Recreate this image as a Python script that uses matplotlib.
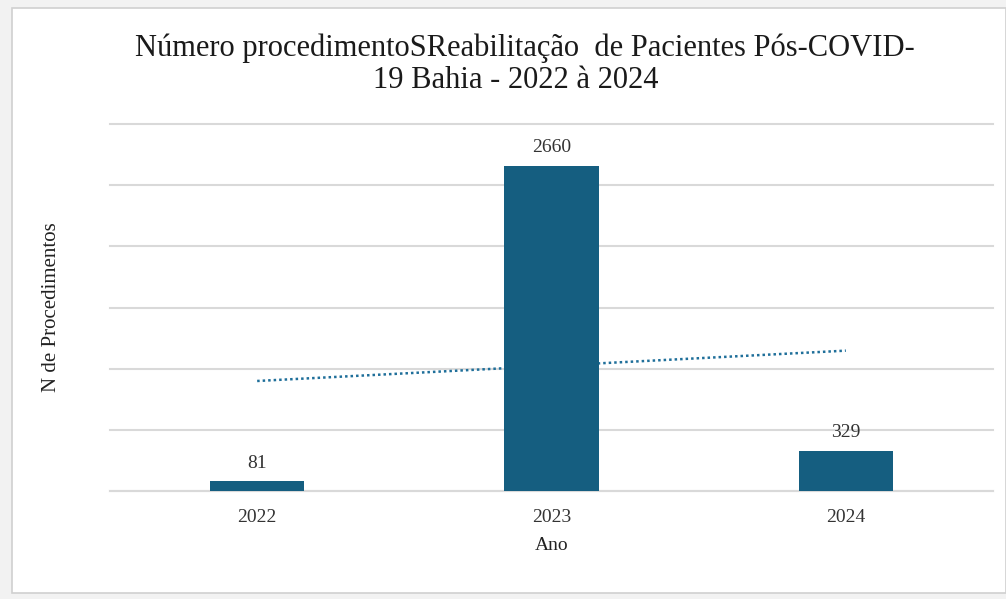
import numpy as np
import matplotlib.pyplot as plt
from matplotlib.patches import Rectangle

# data
anos = ["2022", "2023", "2024"]
procedimentos = [81, 2660, 329]
titulo = ["Número procedimentoSReabilitação  de Pacientes Pós-COVID-",
          "19 Bahia - 2022 à 2024"]

plt.rcParams["font.family"] = ["Liberation Serif", "DejaVu Serif"]

W, H = 1006, 599
fig = plt.figure(figsize=(W / 100, H / 100), dpi=100, facecolor="#f2f2f2")

# white card with thin grey border
card = Rectangle((12 / W, 1 - 593 / H), (W - 12) / W, (593 - 8) / H,
                 transform=fig.transFigure, facecolor="white",
                 edgecolor="#d0d0d0", linewidth=1.2, zorder=-1)
fig.patches.append(card)

ax = fig.add_axes([110 / W, 1 - 491 / H, (993 - 110) / W, (491 - 124) / H])
ax.set_facecolor("none")
ax.set_zorder(2)

x = np.arange(len(anos))
ax.bar(x, procedimentos, width=0.32, color="#155e80", zorder=3)

for xi, v in zip(x, procedimentos):
    ax.annotate(str(v), (xi, v), xytext=(0, 13), textcoords="offset points",
                ha="center", va="center", fontsize=14, color="#333333")

# linear trend line (sits behind the bars)
coef = np.polyfit(x, procedimentos, 1)
ax.plot(x, np.polyval(coef, x), linestyle=(0, (1, 1.2)), color="#1f6f9a",
        linewidth=1.8, zorder=2)

ax.set_xlim(-0.5, 2.5)
ax.set_ylim(0, 3000)
ax.set_yticks(np.arange(0, 3001, 500))
ax.set_yticklabels([])
ax.yaxis.grid(True, color="#d9d9d9", linewidth=1.5, zorder=0)
for gl in ax.get_ygridlines():
    gl.set_clip_on(False)
ax.tick_params(axis="y", length=0)
ax.tick_params(axis="x", length=0, pad=13, labelsize=14, labelcolor="#333333")
ax.set_xticks(x)
ax.set_xticklabels(anos)
for s in ["top", "right", "left"]:
    ax.spines[s].set_visible(False)
ax.spines["bottom"].set_color("#d9d9d9")
ax.spines["bottom"].set_linewidth(1.5)

ax.set_xlabel("Ano", fontsize=14, labelpad=8, color="#222222")
ax.set_ylabel("N de Procedimentos", fontsize=15, labelpad=32, color="#222222")

fig.text(525 / W, 1 - 48 / H, titulo[0], ha="center", va="center",
         fontsize=22, color="#1a1a1a")
fig.text(516 / W, 1 - 81 / H, titulo[1], ha="center", va="center",
         fontsize=22, color="#1a1a1a")

fig.savefig("out.png", dpi=100, facecolor=fig.get_facecolor())
